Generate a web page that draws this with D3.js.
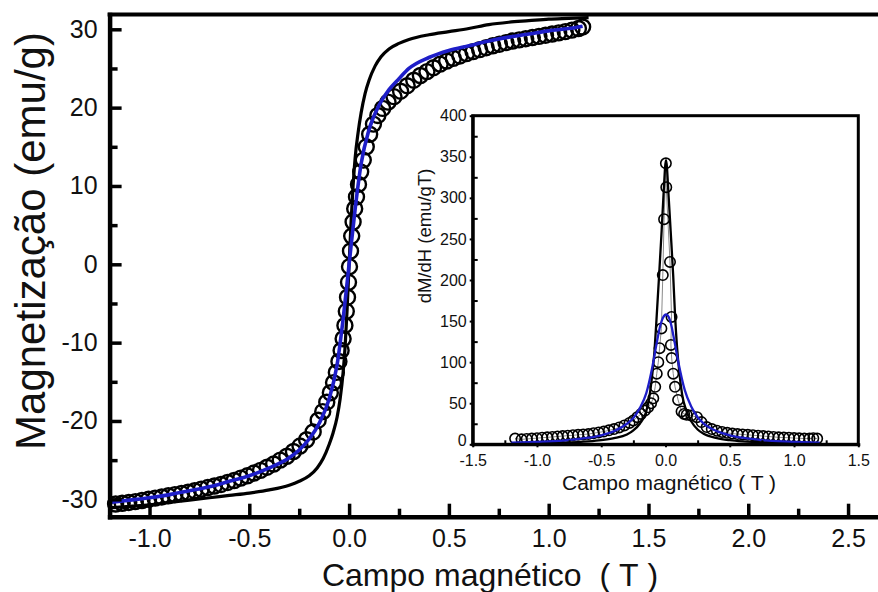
<!DOCTYPE html>
<html>
<head>
<meta charset="utf-8">
<script src="https://cdn.jsdelivr.net/npm/d3@7"></script>
<style>
  html, body { margin: 0; padding: 0; background: #fff; }
  svg { display: block; font-family: "Liberation Sans", Arial, Helvetica, sans-serif; }
</style>
</head>
<body>
<svg id="chart" width="878" height="592"></svg>
<script>
// ---- Magnetization curve: measured points (open circles) ----
const fieldData = [-1.170,-1.137,-1.104,-1.071,-1.038,-1.005,-0.972,-0.939,-0.906,-0.873,
  -0.840,-0.807,-0.774,-0.741,-0.708,-0.675,-0.642,-0.609,-0.576,-0.543,
  -0.510,-0.477,-0.444,-0.411,-0.378,-0.345,-0.312,-0.279,-0.246,-0.213,
  -0.180,-0.155,-0.132,-0.112,-0.094,-0.078,-0.064,-0.051,-0.040,-0.030,
  -0.021,-0.014,-0.008,-0.003,0.002,0.007,0.013,0.020,0.028,0.037,
  0.047,0.058,0.071,0.086,0.103,0.122,0.144,0.168,0.195,0.225,
  0.258,0.291,0.324,0.357,0.390,0.423,0.456,0.489,0.522,0.555,
  0.588,0.621,0.654,0.687,0.720,0.753,0.786,0.819,0.852,0.885,
  0.918,0.951,0.984,1.017,1.050,1.083,1.116,1.149,1.170];
const magnetData = [-30.6,-30.5,-30.4,-30.3,-30.15,-30.0,-29.85,-29.7,-29.55,-29.4,
  -29.25,-29.1,-28.9,-28.7,-28.5,-28.3,-28.1,-27.85,-27.6,-27.3,
  -27.0,-26.65,-26.3,-25.9,-25.5,-25.0,-24.5,-23.9,-23.2,-22.4,
  -21.4,-19.9,-18.8,-17.6,-16.4,-15.1,-13.8,-12.4,-11.0,-9.5,
  -7.8,-6.0,-4.2,-2.3,-0.3,1.7,3.6,5.4,7.1,8.6,
  10.2,11.8,13.3,15.0,16.6,17.9,19.0,19.9,20.7,21.4,
  22.1,22.8,23.5,24.1,24.6,25.1,25.55,25.95,26.3,26.6,
  26.9,27.15,27.4,27.65,27.9,28.1,28.3,28.5,28.65,28.8,
  28.95,29.1,29.25,29.4,29.55,29.7,29.9,30.1,30.3];

// ---- Magnetization: steep curve (black) ----
const fieldSteep = [-1.2,-1.1,-1.0,-0.9,-0.8,-0.7,-0.6,-0.5,-0.4,-0.3,
  -0.25,-0.2,-0.16,-0.13,-0.1,-0.08,-0.06,-0.045,-0.03,-0.02,-0.01,
  0,
  0.01,0.02,0.03,0.045,0.06,0.08,0.1,0.13,0.16,0.2,0.25,0.3,
  0.4,0.5,0.6,0.7,0.8,0.9,1.0,1.1,1.2];
const magnetSteep = [-31.1,-30.9,-30.7,-30.4,-30.1,-29.8,-29.5,-29.2,-28.8,-28.2,
  -27.7,-27.0,-26.0,-24.8,-23.0,-21.5,-19.5,-17.2,-13.8,-10.5,-5.8,
  0,
  5.5,10.0,13.5,16.8,19.3,21.8,23.5,25.3,26.5,27.5,28.2,28.7,
  29.3,29.7,30.1,30.6,30.9,31.1,31.3,31.4,31.5];

// ---- Magnetization: fitted curve (blue) ----
const fieldFit = [-1.2,-1.1,-1.0,-0.9,-0.8,-0.7,-0.6,-0.5,-0.4,-0.3,-0.25,-0.2,-0.15,-0.1,-0.06,-0.03,
  0,
  0.03,0.06,0.1,0.15,0.2,0.25,0.3,0.4,0.5,0.6,0.7,0.8,0.9,1.0,1.1,1.17];
const magnetFit = [-30.4,-30.1,-29.8,-29.4,-28.9,-28.4,-27.7,-27.0,-26.0,-24.7,-23.7,-22.3,-20.3,-17.2,-12.8,-7.0,
  0,
  7.0,12.8,17.2,20.3,22.3,23.7,25.0,26.4,27.3,27.9,28.5,29.0,29.4,29.8,30.1,30.4];

// ---- Inset: dM/dH measured points ----
const dFieldData = [-1.17,-1.12,-1.08,-1.04,-1.00,-0.96,-0.92,-0.88,-0.84,-0.80,
  -0.76,-0.72,-0.68,-0.64,-0.60,-0.56,-0.52,-0.48,-0.44,-0.40,
  -0.36,-0.32,-0.28,-0.25,-0.22,-0.19,-0.16,-0.135,-0.112,-0.095,
  -0.080,-0.068,-0.056,-0.046,-0.032,-0.021,-0.011,0.003,0.006,0.035,
  0.047,0.042,0.048,0.060,0.074,0.098,0.125,0.145,0.165,0.20,
  0.245,0.28,0.32,0.36,0.40,0.44,0.48,0.52,0.56,0.60,
  0.64,0.68,0.72,0.76,0.80,0.84,0.88,0.92,0.96,1.00,
  1.04,1.08,1.12,1.15,1.18];
const dData = [7,6,6.5,7,7.5,8,8.5,9,9.5,10,
  10.5,11,11.5,12,12.5,13.5,14.5,15.5,17,18.5,
  20.5,23,26,29,33,37,41,45,50,56,
  70,86,100,117,141,206,274,342,313,222,
  155,121,105,86,70,54,40,37,36,35,
  33,27,21,18.5,16.5,15,14,13,12.5,12,
  11.5,11,10.5,10,9.5,9,8.5,8.2,8,7.6,
  7.3,7,7,7.5,7];

// ---- Inset: derivative of the steep curve (black) ----
const dFieldSteep = [-1.2,-1.0,-0.8,-0.6,-0.5,-0.4,-0.3,-0.25,-0.2,-0.15,
  -0.125,-0.105,-0.085,-0.07,-0.05,-0.03,-0.015,0.004,0.025,0.04,
  0.06,0.075,0.09,0.11,0.13,0.16,0.2,0.25,0.3,0.4,
  0.5,0.6,0.8,1.0,1.2];
const dSteep = [1,1.5,2,3.5,5,7.5,12,17,25,40,
  58,82,115,152,205,260,305,346,300,260,
  205,155,118,84,60,42,28,18,12.5,7.5,
  5,3.5,2,1.5,1];

// ---- Inset: derivative of the fitted curve (blue) ----
const dFieldFit = [-1.2,-1.0,-0.8,-0.6,-0.5,-0.4,-0.3,-0.25,-0.2,-0.15,-0.1,-0.07,-0.04,-0.02,
  0.005,
  0.025,0.045,0.07,0.1,0.15,0.2,0.25,0.3,0.4,0.5,0.6,0.8,1.0,1.2];
const dFit = [2,3,4.5,8,11,16,25,32,44,62,96,122,145,154,
  158,
  155,145,125,100,66,46,33,25,16,11,8,4.5,3,2];

// ---- Tick values ----
const xTicks = [-1.0,-0.5,0.0,0.5,1.0,1.5,2.0,2.5];
const xMinorTicks = [-0.75,-0.25,0.25,0.75,1.25,1.75,2.25];
const yTicks = [-30,-20,-10,0,10,20,30];
const yMinorTicks = [-25,-15,-5,5,15,25];
const insetXTicks = [-1.5,-1.0,-0.5,0.0,0.5,1.0,1.5];
const insetXMinorTicks = [-1.25,-0.75,-0.25,0.25,0.75,1.25];
const insetYTicks = [0,50,100,150,200,250,300,350,400];
const insetYMinorTicks = [25,75,125,175,225,275,325,375];

const BLUE = "#1e1ec8";
const zip = (a, b) => a.map((v, i) => [v, b[i]]);

const svg = d3.select("#chart");

// ================= Main plot =================
const x = d3.scaleLinear().domain([-1.2, 2.65]).range([109.6, 878]);
const y = d3.scaleLinear().domain([-32.22, 31.89]).range([516.7, 14.5]);

const main = svg.append("g");

// measured points
main.append("g")
  .selectAll("circle")
  .data(zip(fieldData, magnetData))
  .join("circle")
  .attr("cx", d => x(d[0]))
  .attr("cy", d => y(d[1]))
  .attr("r", 7.5)
  .attr("fill", "none")
  .attr("stroke", "#000")
  .attr("stroke-width", 2.4);

const mainLine = d3.line().x(d => x(d[0])).y(d => y(d[1])).curve(d3.curveMonotoneX);

main.append("path")
  .datum(zip(fieldSteep, magnetSteep))
  .attr("d", mainLine)
  .attr("fill", "none")
  .attr("stroke", "#000")
  .attr("stroke-width", 3.2);

main.append("path")
  .datum(zip(fieldFit, magnetFit))
  .attr("d", mainLine)
  .attr("fill", "none")
  .attr("stroke", BLUE)
  .attr("stroke-width", 3.6);

// axes
function styleAxis(g, fontSize, lineW, tickW) {
  g.selectAll(".domain").attr("stroke", "#000").attr("stroke-width", lineW).attr("stroke-linecap", "square");
  g.selectAll(".tick line").attr("stroke", "#000").attr("stroke-width", tickW);
  g.selectAll(".tick text").attr("fill", "#111").style("font-size", fontSize + "px");
  g.attr("font-family", null);
}

const y0 = y.range()[0];
const xAxisG = svg.append("g").attr("transform", `translate(0,${y0})`)
  .call(d3.axisBottom(x).tickValues(xTicks).tickFormat(d => d.toFixed(1))
    .tickSizeInner(-13).tickSizeOuter(0).tickPadding(13));
styleAxis(xAxisG, 25, 4.5, 3.5);

const xMinorG = svg.append("g").attr("transform", `translate(0,${y0})`)
  .call(d3.axisBottom(x).tickValues(xMinorTicks).tickFormat("").tickSizeInner(-8).tickSizeOuter(0));
xMinorG.select(".domain").remove();
styleAxis(xMinorG, 25, 4.5, 3.5);

const x0 = x.range()[0];
const yAxisG = svg.append("g").attr("transform", `translate(${x0},0)`)
  .call(d3.axisLeft(y).tickValues(yTicks).tickFormat(d => String(d))
    .tickSizeInner(-12).tickSizeOuter(0).tickPadding(12));
styleAxis(yAxisG, 25, 4.5, 3.5);

const yMinorG = svg.append("g").attr("transform", `translate(${x0},0)`)
  .call(d3.axisLeft(y).tickValues(yMinorTicks).tickFormat("").tickSizeInner(-8).tickSizeOuter(0));
yMinorG.select(".domain").remove();
styleAxis(yMinorG, 25, 4.5, 3.5);

// top frame line
svg.append("line")
  .attr("x1", x0).attr("x2", x.range()[1])
  .attr("y1", y.range()[1]).attr("y2", y.range()[1])
  .attr("stroke", "#000").attr("stroke-width", 4).attr("stroke-linecap", "square");

// axis titles
svg.append("text")
  .attr("transform", "translate(45,241) rotate(-90)")
  .attr("text-anchor", "middle")
  .style("font-size", "42px")
  .attr("fill", "#111")
  .text("Magnetização (emu/g)");

svg.append("text")
  .attr("x", 490).attr("y", 586)
  .attr("text-anchor", "middle")
  .style("font-size", "32px")
  .attr("fill", "#111")
  .text("Campo magnético\u00A0\u00A0(\u00A0T\u00A0)");

// ================= Inset =================
const ix = d3.scaleLinear().domain([-1.5, 1.5]).range([472.7, 858.3]);
const iy = d3.scaleLinear().domain([0, 400]).range([444.3, 115.7]);

const inset = svg.append("g");
inset.append("rect")
  .attr("x", ix.range()[0]).attr("y", iy.range()[1])
  .attr("width", ix.range()[1] - ix.range()[0])
  .attr("height", iy.range()[0] - iy.range()[1])
  .attr("fill", "#fff");

const insetLine = d3.line().x(d => ix(d[0])).y(d => iy(d[1])).curve(d3.curveMonotoneX);

// thin line joining the measured points
inset.append("path")
  .datum(zip(dFieldData, dData))
  .attr("d", d3.line().x(d => ix(d[0])).y(d => iy(d[1])))
  .attr("fill", "none")
  .attr("stroke", "#8a8a8a")
  .attr("stroke-width", 1);

inset.append("g")
  .selectAll("circle")
  .data(zip(dFieldData, dData))
  .join("circle")
  .attr("cx", d => ix(d[0]))
  .attr("cy", d => iy(d[1]))
  .attr("r", 5.2)
  .attr("fill", "none")
  .attr("stroke", "#000")
  .attr("stroke-width", 1.6);

inset.append("path")
  .datum(zip(dFieldSteep, dSteep))
  .attr("d", insetLine)
  .attr("fill", "none")
  .attr("stroke", "#000")
  .attr("stroke-width", 2.3);

inset.append("path")
  .datum(zip(dFieldFit, dFit))
  .attr("d", insetLine)
  .attr("fill", "none")
  .attr("stroke", BLUE)
  .attr("stroke-width", 2.3);

// inset frame
inset.append("rect")
  .attr("x", ix.range()[0]).attr("y", iy.range()[1])
  .attr("width", ix.range()[1] - ix.range()[0])
  .attr("height", iy.range()[0] - iy.range()[1])
  .attr("fill", "none")
  .attr("stroke", "#000")
  .attr("stroke-width", 3);

const iy0 = iy.range()[0];
const ixAxisG = inset.append("g").attr("transform", `translate(0,${iy0})`)
  .call(d3.axisBottom(ix).tickValues(insetXTicks).tickFormat(d => d.toFixed(1))
    .tickSizeInner(3).tickSizeOuter(0).tickPadding(7));
styleAxis(ixAxisG, 16, 3, 2);

const ixMinorG = inset.append("g").attr("transform", `translate(0,${iy0})`)
  .call(d3.axisBottom(ix).tickValues(insetXMinorTicks).tickFormat("").tickSizeInner(-4).tickSizeOuter(0));
ixMinorG.select(".domain").remove();
styleAxis(ixMinorG, 16, 3, 2);

const ix0 = ix.range()[0];
const iyAxisG = inset.append("g").attr("transform", `translate(${ix0},0)`)
  .call(d3.axisLeft(iy).tickValues(insetYTicks).tickFormat(d => String(d))
    .tickSizeInner(3).tickSizeOuter(0).tickPadding(3));
styleAxis(iyAxisG, 16, 3, 2);
// the zero label sits just above the corner so it clears the field labels
iyAxisG.selectAll(".tick text").filter(d => d === 0).attr("dy", "0.1em");

const iyMinorG = inset.append("g").attr("transform", `translate(${ix0},0)`)
  .call(d3.axisLeft(iy).tickValues(insetYMinorTicks).tickFormat("").tickSizeInner(-5).tickSizeOuter(0));
iyMinorG.select(".domain").remove();
styleAxis(iyMinorG, 16, 3, 2);

inset.append("text")
  .attr("transform", "translate(431,236) rotate(-90)")
  .attr("text-anchor", "middle")
  .style("font-size", "18.5px")
  .attr("fill", "#111")
  .text("dM/dH (emu/gT)");

inset.append("text")
  .attr("x", 669).attr("y", 490)
  .attr("text-anchor", "middle")
  .style("font-size", "21px")
  .attr("fill", "#111")
  .text("Campo magnético ( T )");
</script>
</body>
</html>
